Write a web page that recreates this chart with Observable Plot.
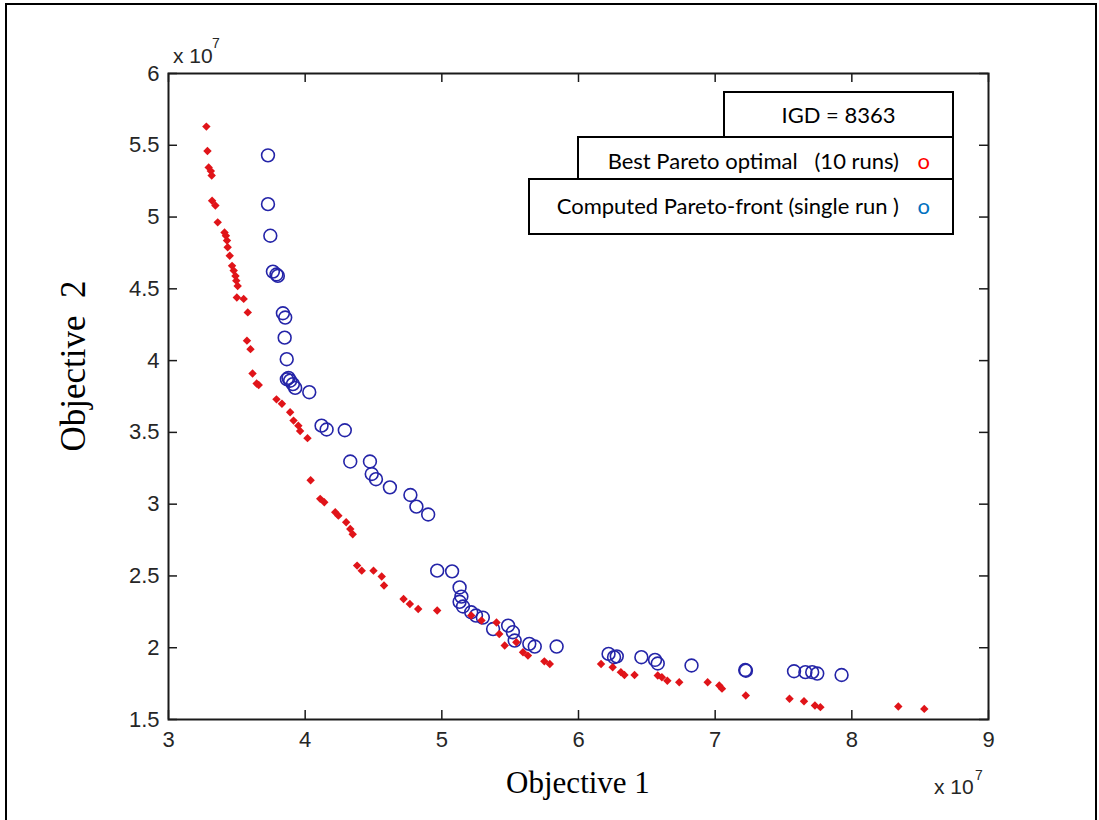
<!DOCTYPE html>
<html>
<head>
<meta charset="utf-8">
<script src="https://cdn.jsdelivr.net/npm/d3@7"></script>
<script src="https://cdn.jsdelivr.net/npm/@observablehq/plot@0.6"></script>
<style>
  html, body { margin: 0; padding: 0; background: #fff; }
  #wrap { position: relative; width: 1099px; height: 820px; overflow: hidden; background: #fff; }
  #wrap > svg, #chart svg { position: absolute; left: 0; top: 0; }
  .outer { position: absolute; left: 5px; top: 3px; width: 1092px; height: 900px; border: 2px solid #000; box-sizing: border-box; }
  .box { position: absolute; border: 2px solid #000; background: #fff; box-sizing: border-box; font-family: Lato, "Open Sans", sans-serif; font-size: 22px; color: #000; white-space: pre; }
  .box span { position: absolute; white-space: pre; line-height: 1; }
</style>
</head>
<body>
<div id="wrap">
  <div class="outer"></div>
  <div id="chart"></div>
</div>
<script>
// Objective values, in units of 10^7
const bestObj1 = [3.277,3.285,3.294,3.31,3.316,3.319,3.343,3.36,3.41,3.42,3.428,3.433,3.448,3.465,3.477,3.49,3.496,3.506,3.50,3.55,3.58,3.574,3.60,3.615,3.645,3.66,3.79,3.83,3.89,3.915,3.95,3.963,4.017,4.04,4.11,4.14,4.22,4.243,4.30,4.33,4.348,4.38,4.414,4.50,4.56,4.577,4.72,4.766,4.827,4.966,5.215,5.29,5.40,5.42,5.46,5.545,5.594,5.63,5.75,5.79,6.165,6.25,6.31,6.336,6.41,6.58,6.61,6.65,6.737,6.945,7.03,7.05,7.224,7.544,7.65,7.73,7.77,8.34,8.53];
const bestObj2 = [5.63,5.46,5.346,5.32,5.29,5.114,5.08,4.963,4.893,4.87,4.836,4.79,4.73,4.66,4.627,4.59,4.557,4.52,4.44,4.43,4.336,4.139,4.08,3.91,3.84,3.83,3.73,3.70,3.64,3.582,3.547,3.51,3.46,3.167,3.037,3.013,2.944,2.92,2.874,2.827,2.79,2.572,2.537,2.537,2.496,2.433,2.34,2.304,2.27,2.259,2.224,2.19,2.176,2.095,2.015,2.038,1.968,1.945,1.905,1.886,1.886,1.864,1.83,1.81,1.81,1.806,1.794,1.77,1.76,1.76,1.737,1.715,1.667,1.644,1.627,1.597,1.586,1.59,1.574];
const compObj1 = [3.728,3.728,3.745,3.764,3.79,3.80,3.837,3.854,3.85,3.865,3.866,3.878,3.89,3.91,3.927,4.03,4.12,4.157,4.29,4.33,4.474,4.487,4.518,4.62,4.77,4.814,4.90,4.966,5.075,5.13,5.143,5.13,5.155,5.215,5.25,5.30,5.375,5.485,5.52,5.533,5.64,5.68,5.84,6.22,6.26,6.28,6.46,6.56,6.58,6.827,7.22,7.225,7.577,7.66,7.71,7.747,7.925];
const compObj2 = [5.43,5.09,4.87,4.62,4.60,4.59,4.33,4.30,4.16,4.01,3.87,3.88,3.86,3.836,3.81,3.78,3.547,3.52,3.515,3.297,3.297,3.21,3.174,3.117,3.064,2.983,2.928,2.537,2.532,2.42,2.356,2.32,2.287,2.247,2.224,2.21,2.13,2.154,2.108,2.05,2.027,2.008,2.008,1.957,1.934,1.94,1.934,1.915,1.89,1.876,1.845,1.84,1.836,1.83,1.83,1.82,1.81];
const xTicks = [3,4,5,6,7,8,9];
const yTicks = [1.5,2,2.5,3,3.5,4,4.5,5,5.5,6];
const xLabel = "Objective 1";
const yLabel = "Objective\u00a0 2";
const igdText = "IGD = 8363";
const bestText = "Best Pareto optimal   (10 runs)";
const compText = "Computed Pareto-front (single run )";

const best = bestObj1.map((x, i) => ({x, y: bestObj2[i]}));
const comp = compObj1.map((x, i) => ({x, y: compObj2[i]}));

const W = 1099, H = 820, mL = 168, mR = 111, mT = 73, mB = 101;
const plotW = W - mL - mR, plotH = H - mT - mB;
const tickLen = 9;
const axisColor = "#1a1a1a";
const tickFont = {fontSize: 22, fontFamily: "Liberation Sans, Arial, sans-serif", fill: "#262626"};

const chart = Plot.plot({
  width: W, height: H,
  marginLeft: mL, marginRight: mR, marginTop: mT, marginBottom: mB,
  style: {background: "transparent", overflow: "visible"},
  x: {domain: [3, 9], label: null},
  y: {domain: [1.5, 6], label: null},
  marks: [
    Plot.tickX(xTicks, {x: d => d, insetTop: plotH - tickLen, stroke: axisColor, strokeWidth: 1.5}),
    Plot.tickX(xTicks, {x: d => d, insetBottom: plotH - tickLen, stroke: axisColor, strokeWidth: 1.5}),
    Plot.tickY(yTicks, {y: d => d, insetRight: plotW - tickLen, stroke: axisColor, strokeWidth: 1.5}),
    Plot.tickY(yTicks, {y: d => d, insetLeft: plotW - tickLen, stroke: axisColor, strokeWidth: 1.5}),
    Plot.frame({stroke: axisColor, strokeWidth: 2}),
    Plot.axisX(xTicks, {anchor: "bottom", tickSize: 0, tickPadding: 12, tickFormat: d => String(d), label: null, ...tickFont}),
    Plot.axisY(yTicks, {anchor: "left", tickSize: 0, tickPadding: 9, tickFormat: d => String(d), label: null, ...tickFont}),
    Plot.dot(comp, {x: "x", y: "y", r: 6.4, stroke: "#2424a8", strokeWidth: 1.6, fill: "none"}),
    Plot.dot(best, {x: "x", y: "y", symbol: "diamond2", r: 3.8, fill: "#e01419", stroke: "none"})
  ]
});
document.getElementById("chart").appendChild(chart);

// Axis titles and exponent labels
const ns = "http://www.w3.org/2000/svg";
const over = document.createElementNS(ns, "svg");
over.setAttribute("width", W);
over.setAttribute("height", H);
over.style.position = "absolute";
over.style.left = "0";
over.style.top = "0";
over.innerHTML = `
  <text x="578" y="793" text-anchor="middle" font-family="Liberation Serif, Times New Roman, serif" font-size="31" fill="#000">${xLabel}</text>
  <text transform="translate(85,366) rotate(-90)" text-anchor="middle" font-family="Liberation Serif, Times New Roman, serif" font-size="35" fill="#000" xml:space="preserve">${yLabel}</text>
  <text x="173" y="63" font-family="Liberation Sans, Arial, sans-serif" font-size="21" fill="#262626">x 10</text>
  <text x="212" y="48" font-family="Liberation Sans, Arial, sans-serif" font-size="14" fill="#262626">7</text>
  <text x="934" y="794" font-family="Liberation Sans, Arial, sans-serif" font-size="21" fill="#262626">x 10</text>
  <text x="975" y="780" font-family="Liberation Sans, Arial, sans-serif" font-size="14" fill="#262626">7</text>
`;
document.getElementById("wrap").appendChild(over);

// Annotation boxes
function addBox(left, top, width, height, parts) {
  const b = document.createElement("div");
  b.className = "box";
  Object.assign(b.style, {left: left + "px", top: top + "px", width: width + "px", height: height + "px"});
  for (const p of parts) {
    const s = document.createElement("span");
    s.textContent = p.text;
    Object.assign(s.style, p.style);
    b.appendChild(s);
  }
  document.getElementById("wrap").appendChild(b);
}
addBox(723, 91, 231, 47, [
  {text: igdText, style: {left: "0", width: "100%", textAlign: "center", top: "11px"}}
]);
addBox(577, 136, 377, 44, [
  {text: bestText, style: {right: "53px", top: "12px"}},
  {text: "o", style: {right: "22px", top: "12px", color: "#ff0000"}}
]);
addBox(528, 178, 426, 57, [
  {text: compText, style: {right: "53px", top: "15px"}},
  {text: "o", style: {right: "22px", top: "15px", color: "#0070c0"}}
]);
</script>
</body>
</html>
